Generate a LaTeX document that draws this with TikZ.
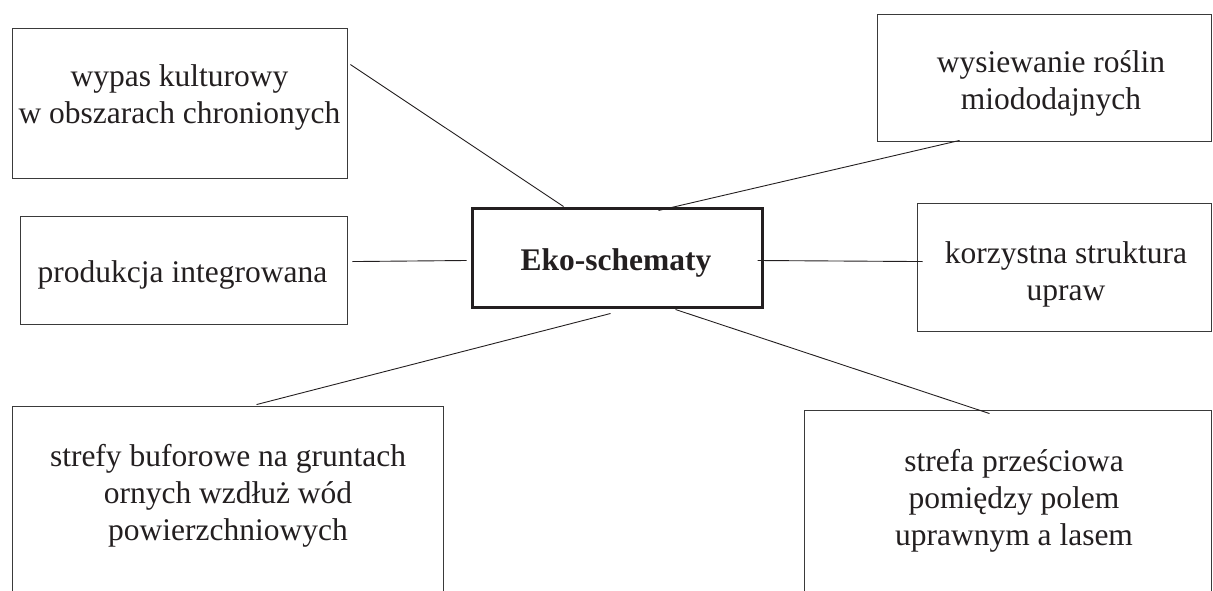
\documentclass[tikz,border=0pt]{standalone}
\usepackage{fontspec}
\setmainfont{Liberation Serif}
\usetikzlibrary{calc}
\definecolor{ink}{HTML}{231F20}
\definecolor{frame}{HTML}{3A3A3A}
\tikzset{
  box/.style={draw=frame, line width=0.9pt, rectangle, inner sep=0pt},
  centerbox/.style={draw=ink, line width=3pt, rectangle, inner sep=0pt},
  label/.style={text=ink, align=center, anchor=base, inner sep=0pt,
                font=\fontsize{31.5}{37}\selectfont},
  boldlabel/.style={text=ink, anchor=base, inner sep=0pt,
                font=\fontsize{31.5}{37}\selectfont\bfseries},
  link/.style={draw=ink, line width=0.9pt}
}
\begin{document}
\begin{tikzpicture}[x=1pt,y=-1pt]
\useasboundingbox (0,0) rectangle (1213,591);
\clip (0,0) rectangle (1213,591);
% boxes
\node[box, minimum width=334.5pt, minimum height=150pt] (wypas) at (179.75,103) {};
\node[box, minimum width=334pt, minimum height=127pt] (wysiew) at (1044,77.5) {};
\node[box, minimum width=327pt, minimum height=108pt] (prod) at (183.5,270) {};
\node[centerbox, minimum width=290pt, minimum height=99pt] (eko) at (617,257.5) {};
\node[box, minimum width=294pt, minimum height=128pt] (korz) at (1064,267) {};
\node[box, minimum width=431pt, minimum height=214pt] (strefy) at (227.5,513) {};
\node[box, minimum width=407pt, minimum height=210pt] (strefa) at (1007.5,515) {};
% texts (base anchor = baseline of the last line)
\node[label] (t1) at (179.5,124) {wypas kulturowy\\w obszarach chronionych};
\node[label] (t2) at (1051,110) {wysiewanie roślin\\miododajnych};
\node[label] (t3) at (182.5,282) {produkcja integrowana};
\node[boldlabel] (t4) at (616,270) {Eko-schematy};
\node[label] (t5) at (1066,300) {korzystna struktura\\upraw};
\node[label] (t6) at (228,540) {strefy buforowe na gruntach\\ornych wzdłuż wód\\powierzchniowych};
\node[label] (t7) at (1014,545) {strefa prześciowa\\pomiędzy polem\\uprawnym a lasem};
% connector ends
\coordinate (a1) at ($(wypas.north east)+(3,37)$);
\coordinate (b1) at ($(eko.north west)+(93,0)$);
\coordinate (a2) at ($(wysiew.south west)+(83,-1)$);
\coordinate (b2) at ($(eko.north west)+(188,4)$);
\coordinate (a3) at ($(prod.north east)+(5,46)$);
\coordinate (b3) at ($(eko.north west)+(-4,54)$);
\coordinate (a4) at ($(eko.north east)+(-6,54)$);
\coordinate (b4) at ($(korz.north west)+(6,59)$);
\coordinate (a5) at ($(eko.south west)+(140,5)$);
\coordinate (b5) at ($(strefy.north west)+(245,-1)$);
\coordinate (a6) at ($(eko.south west)+(205,1)$);
\coordinate (b6) at ($(strefa.north west)+(186,4)$);
\draw[link] (a1) -- (b1);
\draw[link] (a2) -- (b2);
\draw[link] (a3) -- (b3);
\draw[link] (a4) -- (b4);
\draw[link] (a5) -- (b5);
\draw[link] (a6) -- (b6);
\end{tikzpicture}
\end{document}
